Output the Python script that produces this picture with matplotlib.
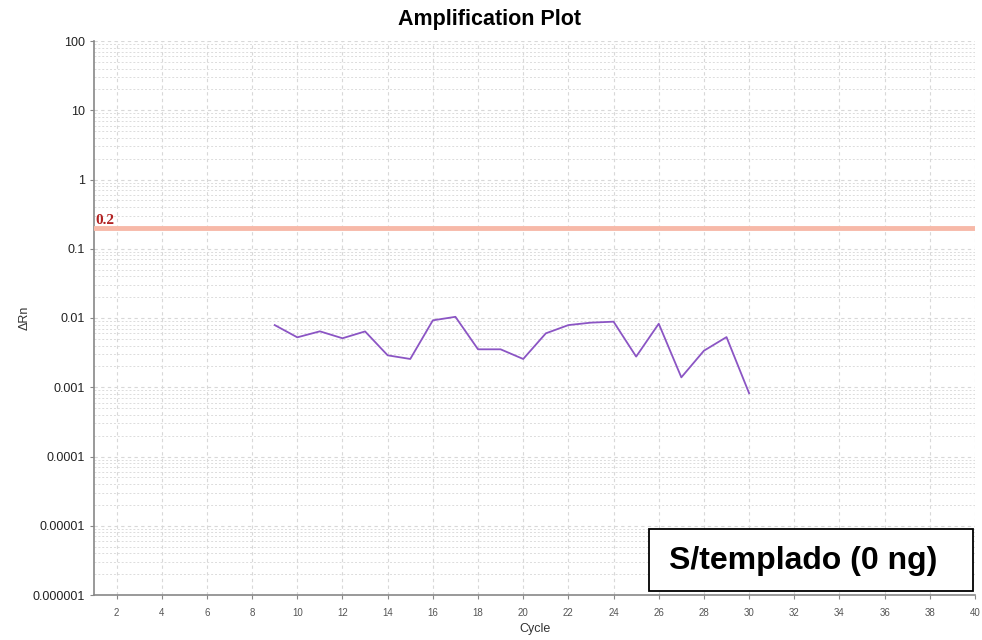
import matplotlib
matplotlib.use("Agg")
import matplotlib.pyplot as plt
from matplotlib.ticker import LogLocator, FixedLocator, NullFormatter
from matplotlib.patches import Rectangle
import numpy as np

plt.rcParams['font.family'] = ['Liberation Sans', 'DejaVu Sans']

cycles = list(range(9, 31))
delta_rn = [0.0079, 0.00526, 0.00642, 0.0051, 0.0064, 0.00289, 0.00256, 0.00925,
            0.0104, 0.00353, 0.00353, 0.00256, 0.0060, 0.0079, 0.00857, 0.00885,
            0.00277, 0.00827, 0.00139, 0.00337, 0.0053, 0.00082]
threshold = 0.2
y_ticks = [1e-6, 1e-5, 1e-4, 1e-3, 1e-2, 1e-1, 1, 10, 100]
y_labels = ["0.000001", "0.00001", "0.0001", "0.001", "0.01", "0.1", "1", "10", "100"]
x_ticks = list(range(2, 41, 2))

fig = plt.figure(figsize=(9.82, 6.4), dpi=100)
ax = fig.add_axes([94/982, 1-595/640, (975-94)/982, (595-41)/640])

ax.set_yscale('log')
ax.set_xlim(1, 40)
ax.set_ylim(1e-6, 100)

ax.yaxis.set_major_locator(FixedLocator(y_ticks))
ax.set_yticklabels(y_labels)
ax.yaxis.set_minor_locator(LogLocator(base=10, subs=np.arange(2, 10)))
ax.yaxis.set_minor_formatter(NullFormatter())
ax.set_xticks(x_ticks)
ax.set_xticklabels([str(t) for t in x_ticks])

ax.grid(True, which='major', axis='both', color='#d8d8d8', linestyle=(0, (3, 3)), linewidth=0.8)
ax.grid(True, which='minor', axis='y', color='#dcdcdc', linestyle=(0, (2, 2)), linewidth=0.7)

ax.tick_params(axis='y', which='major', labelsize=9, length=3, color='#888888', labelcolor='#222222')
ax.tick_params(axis='y', which='minor', length=0)
ax.tick_params(axis='x', which='major', labelsize=7, length=3, color='#888888', labelcolor='#555555', pad=6)

for s in ['top', 'right']:
    ax.spines[s].set_visible(False)
for s in ['left', 'bottom']:
    ax.spines[s].set_color('#888888')
    ax.spines[s].set_linewidth(1.2)

ax.axhline(threshold, color='#f7b9a8', linewidth=3.5, zorder=3)
ax.text(1.05, threshold * 1.04, "0.2", color='#b22222', fontsize=11, fontweight='bold',
        family=['Liberation Serif', 'DejaVu Serif'], va='bottom', ha='left', zorder=4)

ax.plot(cycles, delta_rn, color='#8b55c4', linewidth=1.3, zorder=5)

fig.text(490/982, 1 - 20/640, "Amplification Plot", fontsize=15.5, fontweight='bold',
         ha='center', va='center')
ax.set_xlabel("Cycle", fontsize=9, color='#333333', labelpad=4)
ax.set_ylabel("ΔRn", fontsize=9, color='#333333')
ax.yaxis.set_label_coords((31 - 94) / 881, 0.5)

ax.add_patch(Rectangle((0.630, 0.0072), 0.368, 0.112, transform=ax.transAxes,
                       facecolor='white', edgecolor='black', linewidth=1.3, zorder=6, clip_on=False))
ax.text(0.805, 0.062, "S/templado (0 ng)", transform=ax.transAxes, fontsize=23, fontweight='bold',
        ha='center', va='center', zorder=7)

fig.savefig("out.png", dpi=100)
